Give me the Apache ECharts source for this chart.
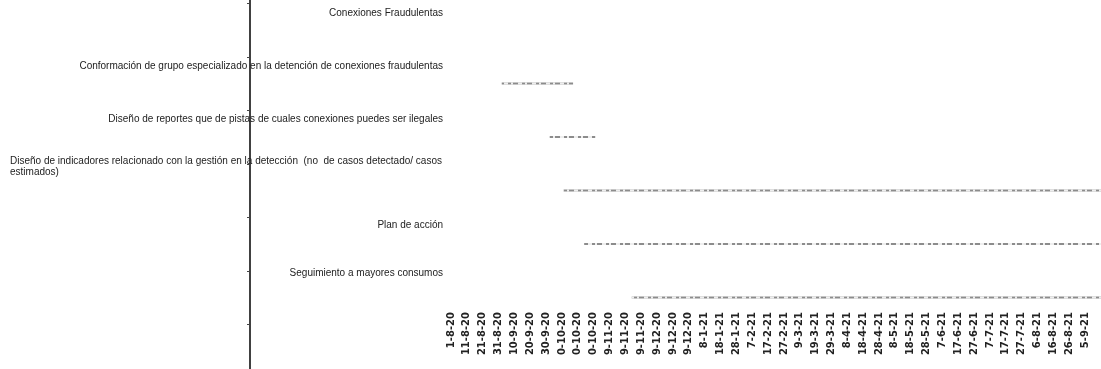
<!DOCTYPE html>
<html>
<head>
<meta charset="utf-8">
<script src="https://cdn.jsdelivr.net/npm/echarts@6/dist/echarts.min.js"></script>
<style>
  html, body { margin: 0; padding: 0; background: #fff; }
  #chart { width: 1101px; height: 369px; }
</style>
</head>
<body>
<div id="chart"></div>
<script>
// Tasks of the fraud-detection work plan (top to bottom)
const taskNames = [
  'Conexiones Fraudulentas',
  'Conformación de grupo especializado en la detención de conexiones fraudulentas',
  'Diseño de reportes que de pistas de cuales conexiones puedes ser ilegales',
  'Diseño de indicadores relacionado con la gestión en la detección  (no  de casos detectado/ casos\nestimados)',
  'Plan de acción',
  'Seguimiento a mayores consumos'
];
// Start / end of each task (null = summary row without a bar)
const taskStarts = [null, '2020-09-02', '2020-10-02', '2020-10-11', '2020-10-24', '2020-11-23'];
const taskEnds   = [null, '2020-10-17', '2020-10-31', '2021-09-15', '2021-09-15', '2021-09-15'];

// Time axis: first tick date, last date shown, and the printed tick labels (every 10 days)
const axisStart = '2020-08-01';
const axisEnd = '2021-09-15';
const tickLabels = [
  '1-8-20', '11-8-20', '21-8-20', '31-8-20', '10-9-20', '20-9-20', '30-9-20',
  '0-10-20', '0-10-20', '0-10-20', '9-11-20', '9-11-20', '9-11-20',
  '9-12-20', '9-12-20', '9-12-20', '8-1-21', '18-1-21', '28-1-21',
  '7-2-21', '17-2-21', '27-2-21', '9-3-21', '19-3-21', '29-3-21',
  '8-4-21', '18-4-21', '28-4-21', '8-5-21', '18-5-21', '28-5-21',
  '7-6-21', '17-6-21', '27-6-21', '7-7-21', '17-7-21', '27-7-21',
  '6-8-21', '16-8-21', '26-8-21', '5-9-21'
];

// How far each task name sits above its bar (px)
const labelRaise = [17, 17.5, 18, 24, 19, 24.5];

const DAY_MS = 86400000;
const dayOf = s => Math.round((Date.parse(s) - Date.parse(axisStart)) / DAY_MS);

// One empty row above and below the tasks so the task axis line spans the full height
const pad = arr => ['-'].concat(arr, ['-']);
const offsets = pad(taskStarts.map(s => (s ? dayOf(s) : '-')));
const durations = pad(taskStarts.map((s, i) => (s ? dayOf(taskEnds[i]) - dayOf(s) : '-')));

const yCategories = [''].concat(taskNames.map((n, i) => ({
  value: n,
  textStyle: { padding: [0, 0, labelRaise[i] * 2, 0] }
})), ['']);

const chart = echarts.init(document.getElementById('chart'), null, { renderer: 'canvas' });

const ROW = 53.5;
const FIRST_ROW_TOP = 3.25;
const GRID_TOP = FIRST_ROW_TOP - ROW;
const GRID_HEIGHT = ROW * yCategories.length;

chart.setOption({
  animation: false,
  backgroundColor: '#ffffff',
  grid: {
    left: 451, right: 0, top: GRID_TOP, height: GRID_HEIGHT,
    containLabel: false, outerBoundsMode: 'none'
  },
  xAxis: {
    type: 'value',
    min: 0,
    max: dayOf(axisEnd),
    interval: 10,
    offset: -(GRID_TOP + GRID_HEIGHT - 312 + 4),
    axisLine: { show: false },
    axisTick: { show: false },
    splitLine: { show: false },
    axisLabel: {
      rotate: 90,
      margin: 4,
      fontFamily: 'DejaVu Sans',
      fontSize: 10,
      fontWeight: 'bold',
      color: '#222',
      formatter: v => (v % 10 === 0 && tickLabels[v / 10]) || ''
    }
  },
  yAxis: {
    type: 'category',
    inverse: true,
    data: yCategories,
    offset: 201,
    axisLine: { show: true, onZero: false, lineStyle: { color: '#111', width: 1.6 } },
    axisTick: { show: true, length: 3, lineStyle: { color: '#444' } },
    axisLabel: {
      interval: 0,
      margin: -193,
      fontFamily: 'Liberation Sans',
      fontSize: 10,
      color: '#222',
      formatter: v => {
        if (!v) return '';
        const lines = v.split('\n');
        if (lines.length > 1) return lines.map(t => '{l|' + t + '}').join('\n');
        return '{r|' + v + '}';
      },
      rich: {
        r: { width: 433, align: 'right', fontFamily: 'Liberation Sans', fontSize: 10, color: '#222' },
        l: { width: 433, align: 'left', fontFamily: 'Liberation Sans', fontSize: 10, color: '#222', lineHeight: 11 }
      }
    }
  },
  series: [
    {
      name: 'inicio',
      type: 'bar',
      stack: 'gantt',
      silent: true,
      barWidth: 2,
      itemStyle: { color: 'rgba(0,0,0,0)' },
      data: offsets
    },
    {
      name: 'duración',
      type: 'bar',
      stack: 'gantt',
      barWidth: 2,
      itemStyle: {
        color: '#8c8c8c',
        decal: {
          symbol: 'rect',
          symbolSize: 1,
          dashArrayX: [[4, 3, 2, 5]],
          dashArrayY: [2, 0],
          rotation: 0,
          color: 'rgba(255,255,255,0.85)'
        }
      },
      data: durations
    }
  ]
});
</script>
</body>
</html>
